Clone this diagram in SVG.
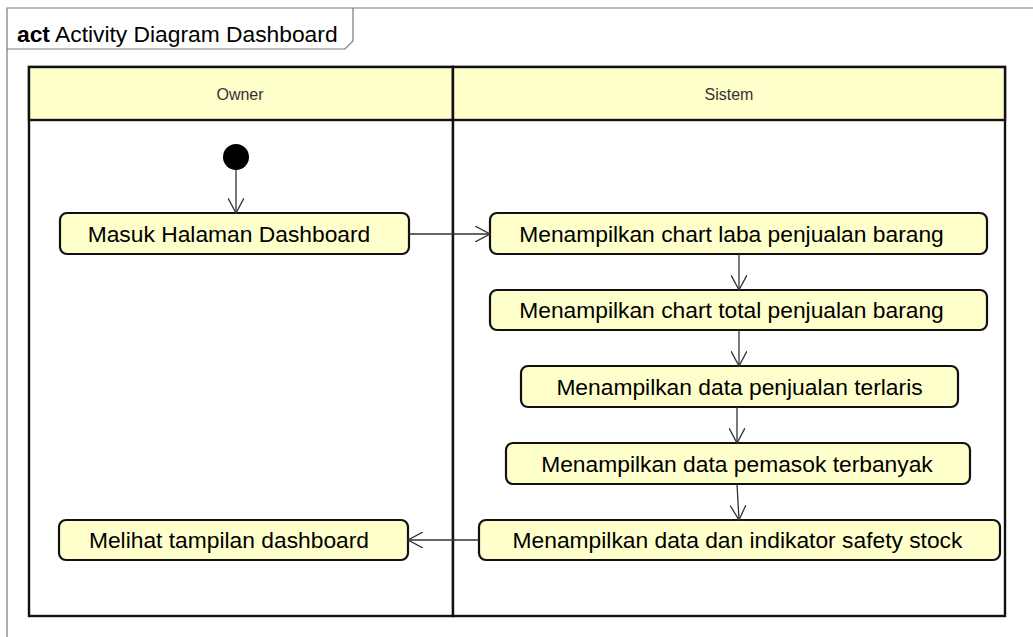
<svg xmlns="http://www.w3.org/2000/svg" width="1033" height="637" viewBox="0 0 1033 637">
  <defs>
    <style>
      .frame { fill: none; stroke: #7a7a7a; stroke-width: 1.2; }
      .lane { fill: #ffffff; stroke: #111111; stroke-width: 2.4; }
      .head { fill: #ffffcc; stroke: #111111; stroke-width: 2.4; }
      .head-text { font-family: "Liberation Sans", Arial, sans-serif; font-size: 16px; fill: #333333; text-anchor: middle; }
      .title { font-family: "Liberation Sans", Arial, sans-serif; font-size: 22.8px; fill: #000000; }
      .action rect { fill: #ffffcc; stroke: #111111; stroke-width: 2.2; }
      .action text { font-family: "Liberation Sans", Arial, sans-serif; font-size: 22.8px; fill: #000000; text-anchor: middle; }
      .flow { fill: none; stroke: #333333; stroke-width: 1.3; marker-end: url(#open); }
    </style>
    <marker id="open" viewBox="0 0 16 16" refX="15" refY="8" markerWidth="16" markerHeight="16" markerUnits="userSpaceOnUse" orient="auto">
      <path d="M0,0 L15,8 L0,16" fill="none" stroke="#333333" stroke-width="1.3"/>
    </marker>
  </defs>

  <rect width="1033" height="637" fill="#ffffff"/>

  <!-- activity frame with name tab -->
  <g id="frame">
    <path class="frame" d="M7,637 V8 H1033"/>
    <path class="frame" d="M7,49 H345 L353,41 V8"/>
    <text class="title" x="17" y="42"><tspan font-weight="bold">act</tspan> Activity Diagram Dashboard</text>
  </g>

  <!-- swimlanes -->
  <g id="lane-owner">
    <rect class="lane" x="29" y="67" width="424" height="549"/>
    <rect class="head" x="29" y="67" width="424" height="53"/>
    <text class="head-text" x="240" y="100">Owner</text>
  </g>
  <g id="lane-sistem">
    <rect class="lane" x="453" y="67" width="552" height="549"/>
    <rect class="head" x="453" y="67" width="552" height="53"/>
    <text class="head-text" x="729" y="100">Sistem</text>
  </g>

  <!-- start -->
  <g id="start">
    <circle cx="236" cy="157" r="13" fill="#000000"/>
  </g>

  <!-- actions -->
  <g id="masuk" class="action">
    <rect x="60" y="213" width="349" height="41" rx="7"/>
    <text x="229" y="242">Masuk Halaman Dashboard</text>
  </g>
  <g id="chart-laba" class="action">
    <rect x="490" y="213" width="497" height="41" rx="7"/>
    <text x="731.5" y="242">Menampilkan chart laba penjualan barang</text>
  </g>
  <g id="chart-total" class="action">
    <rect x="490" y="290" width="497" height="40" rx="7"/>
    <text x="731.5" y="318">Menampilkan chart total penjualan barang</text>
  </g>
  <g id="terlaris" class="action">
    <rect x="521" y="366" width="437" height="41" rx="7"/>
    <text x="739.5" y="395">Menampilkan data penjualan terlaris</text>
  </g>
  <g id="pemasok" class="action">
    <rect x="506" y="443" width="464" height="41" rx="7"/>
    <text x="737" y="472">Menampilkan data pemasok terbanyak</text>
  </g>
  <g id="safety-stock" class="action">
    <rect x="479" y="520" width="521" height="40" rx="7"/>
    <text x="737.5" y="548">Menampilkan data dan indikator safety stock</text>
  </g>
  <g id="melihat" class="action">
    <rect x="59" y="520" width="349" height="40" rx="7"/>
    <text x="229" y="548">Melihat tampilan dashboard</text>
  </g>

  <!-- control flows -->
  <g id="flows">
    <path class="flow" d="M236,170 V213"/>
    <path class="flow" d="M409,234 H490"/>
    <path class="flow" d="M739,254 V290"/>
    <path class="flow" d="M739,330 V366"/>
    <path class="flow" d="M737,407 V443"/>
    <path class="flow" d="M737,484 L739,520"/>
    <path class="flow" d="M479,540 H408"/>
  </g>
</svg>
